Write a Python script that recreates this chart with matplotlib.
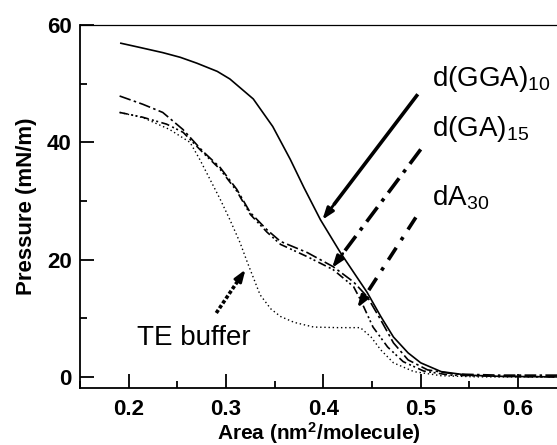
import numpy as np
import matplotlib.pyplot as plt
import matplotlib as mpl
from matplotlib.ticker import MultipleLocator

mpl.rcParams['font.family'] = ['Liberation Sans', 'DejaVu Sans']
mpl.rcParams['mathtext.fontset'] = 'custom'
mpl.rcParams['mathtext.rm'] = 'Liberation Sans'
mpl.rcParams['mathtext.it'] = 'Liberation Sans'
mpl.rcParams['mathtext.bf'] = 'Liberation Sans:bold'

# isotherm data
area_gga = [0.192, 0.211, 0.235, 0.253, 0.27, 0.291, 0.304, 0.328, 0.348, 0.366,
            0.38, 0.397, 0.4175, 0.445, 0.459, 0.472, 0.487, 0.50, 0.521, 0.548,
            0.58, 0.64]
pres_gga = [56.9, 56.2, 55.3, 54.5, 53.5, 52.1, 50.8, 47.4, 42.7, 37.1,
            32.3, 26.8, 21.2, 14.4, 10.3, 6.8, 4.1, 2.4, 0.9, 0.3,
            0.1, 0.0]

area_ga = [0.1907, 0.2144, 0.235, 0.2557, 0.276, 0.294, 0.311, 0.325, 0.342, 0.356,
           0.3835, 0.41, 0.431, 0.445, 0.459, 0.472, 0.487, 0.507, 0.534, 0.58, 0.64]
pres_ga = [47.9, 46.5, 45.1, 42.2, 38.5, 35.7, 32.0, 28.0, 25.1, 23.1,
           21.2, 18.8, 16.2, 13.7, 9.7, 5.8, 2.9, 1.2, 0.5, 0.3, 0.3]

area_a = [0.1907, 0.214, 0.239, 0.256, 0.276, 0.294, 0.311, 0.325, 0.342, 0.356,
          0.3835, 0.41, 0.431, 0.438, 0.451, 0.466, 0.482, 0.503, 0.53, 0.58, 0.64]
pres_a = [45.1, 44.3, 43.1, 41.7, 38.3, 35.4, 31.7, 27.7, 24.7, 22.6,
          20.5, 18.3, 15.4, 13.2, 8.5, 5.1, 2.6, 1.0, 0.3, 0.1, 0.0]

area_te = [0.1907, 0.215, 0.242, 0.263, 0.273, 0.2835, 0.294, 0.304, 0.3144, 0.322,
           0.335, 0.346, 0.356, 0.37, 0.39, 0.415, 0.438, 0.449, 0.459, 0.472,
           0.493, 0.521, 0.56, 0.64]
pres_te = [45.1, 44.2, 42.2, 40.0, 37.1, 33.7, 30.3, 26.8, 22.9, 19.5,
           14.0, 11.6, 10.3, 9.3, 8.5, 8.4, 8.4, 6.8, 4.6, 2.4,
           0.9, 0.2, 0.0, 0.0]

labels = [r'd(GGA)$_{10}$', r'd(GA)$_{15}$', r'dA$_{30}$', 'TE buffer']
label_pos = [(0.512, 50.8), (0.512, 42.2), (0.512, 30.6), (0.209, 6.7)]
arrow_start = [(0.497, 48.2), (0.500, 38.8), (0.495, 27.2), (0.290, 10.9)]
arrow_tip = [(0.399, 26.8), (0.409, 18.6), (0.435, 11.8), (0.320, 18.3)]

curve_styles = ['-', (0, (7, 2, 1.5, 2)), (0, (5, 2, 1.2, 1.5, 1.2, 2)), (0, (1, 2))]
curve_widths = [1.2, 1.2, 1.2, 1.0]
arrow_styles = ['-', (0, (5, 2, 1, 2)), (0, (4, 2.5, 1, 2.5)), (0, (1, 0.6))]

fig = plt.figure(figsize=(5.57, 4.45), dpi=100)
ax = fig.add_axes([0.1436, 0.128, 0.8564, 0.8157])

for xs, ys, ls, lw in zip([area_gga, area_ga, area_a, area_te],
                          [pres_gga, pres_ga, pres_a, pres_te],
                          curve_styles, curve_widths):
    ax.plot(xs, ys, color='black', linestyle=ls, linewidth=lw)

for (x0, y0), (x1, y1), ls in zip(arrow_start, arrow_tip, arrow_styles):
    # shaft drawn with its dash pattern, head drawn solid
    fx = x0 + 0.88 * (x1 - x0)
    fy = y0 + 0.88 * (y1 - y0)
    ax.plot([x0, fx], [y0, fy], color='black', linestyle=ls, linewidth=2.6,
            solid_capstyle='butt')
    ax.annotate('', xy=(x1, y1), xytext=(fx, fy),
                arrowprops=dict(arrowstyle='-|>,head_length=0.7,head_width=0.25',
                                color='black', lw=2.0, shrinkA=0, shrinkB=0))

for (tx, ty), lab in zip(label_pos, labels):
    ax.text(tx, ty, lab, fontsize=20, va='center', ha='left')

ax.set_xlim(0.15, 0.64)
ax.set_ylim(-1.9, 60)
ax.xaxis.set_minor_locator(MultipleLocator(0.05))
ax.yaxis.set_major_locator(MultipleLocator(20))
ax.yaxis.set_minor_locator(MultipleLocator(10))
ax.set_xticks([0.2, 0.3, 0.4, 0.5, 0.6])
ax.set_xticklabels(['0.2', '0.3', '0.4', '0.5', '0.6'])
ax.tick_params(which='major', direction='in', length=10, width=1.3,
               labelsize=16, pad=6)
ax.tick_params(axis='x', which='major', pad=8)
ax.tick_params(which='minor', direction='in', length=5, width=1.3)
for t in ax.get_xticklabels() + ax.get_yticklabels():
    t.set_fontweight('bold')

ax.spines['right'].set_visible(False)
ax.spines['left'].set_linewidth(1.3)
ax.spines['bottom'].set_linewidth(1.3)
ax.spines['top'].set_linewidth(0.9)

ax.set_xlabel(r'Area (nm$^\mathbf{2}$/molecule)', fontsize=15, fontweight='bold', labelpad=0)
ax.set_ylabel('Pressure (mN/m)', fontsize=16, fontweight='bold', labelpad=7)

plt.savefig('out.png', dpi=100)
